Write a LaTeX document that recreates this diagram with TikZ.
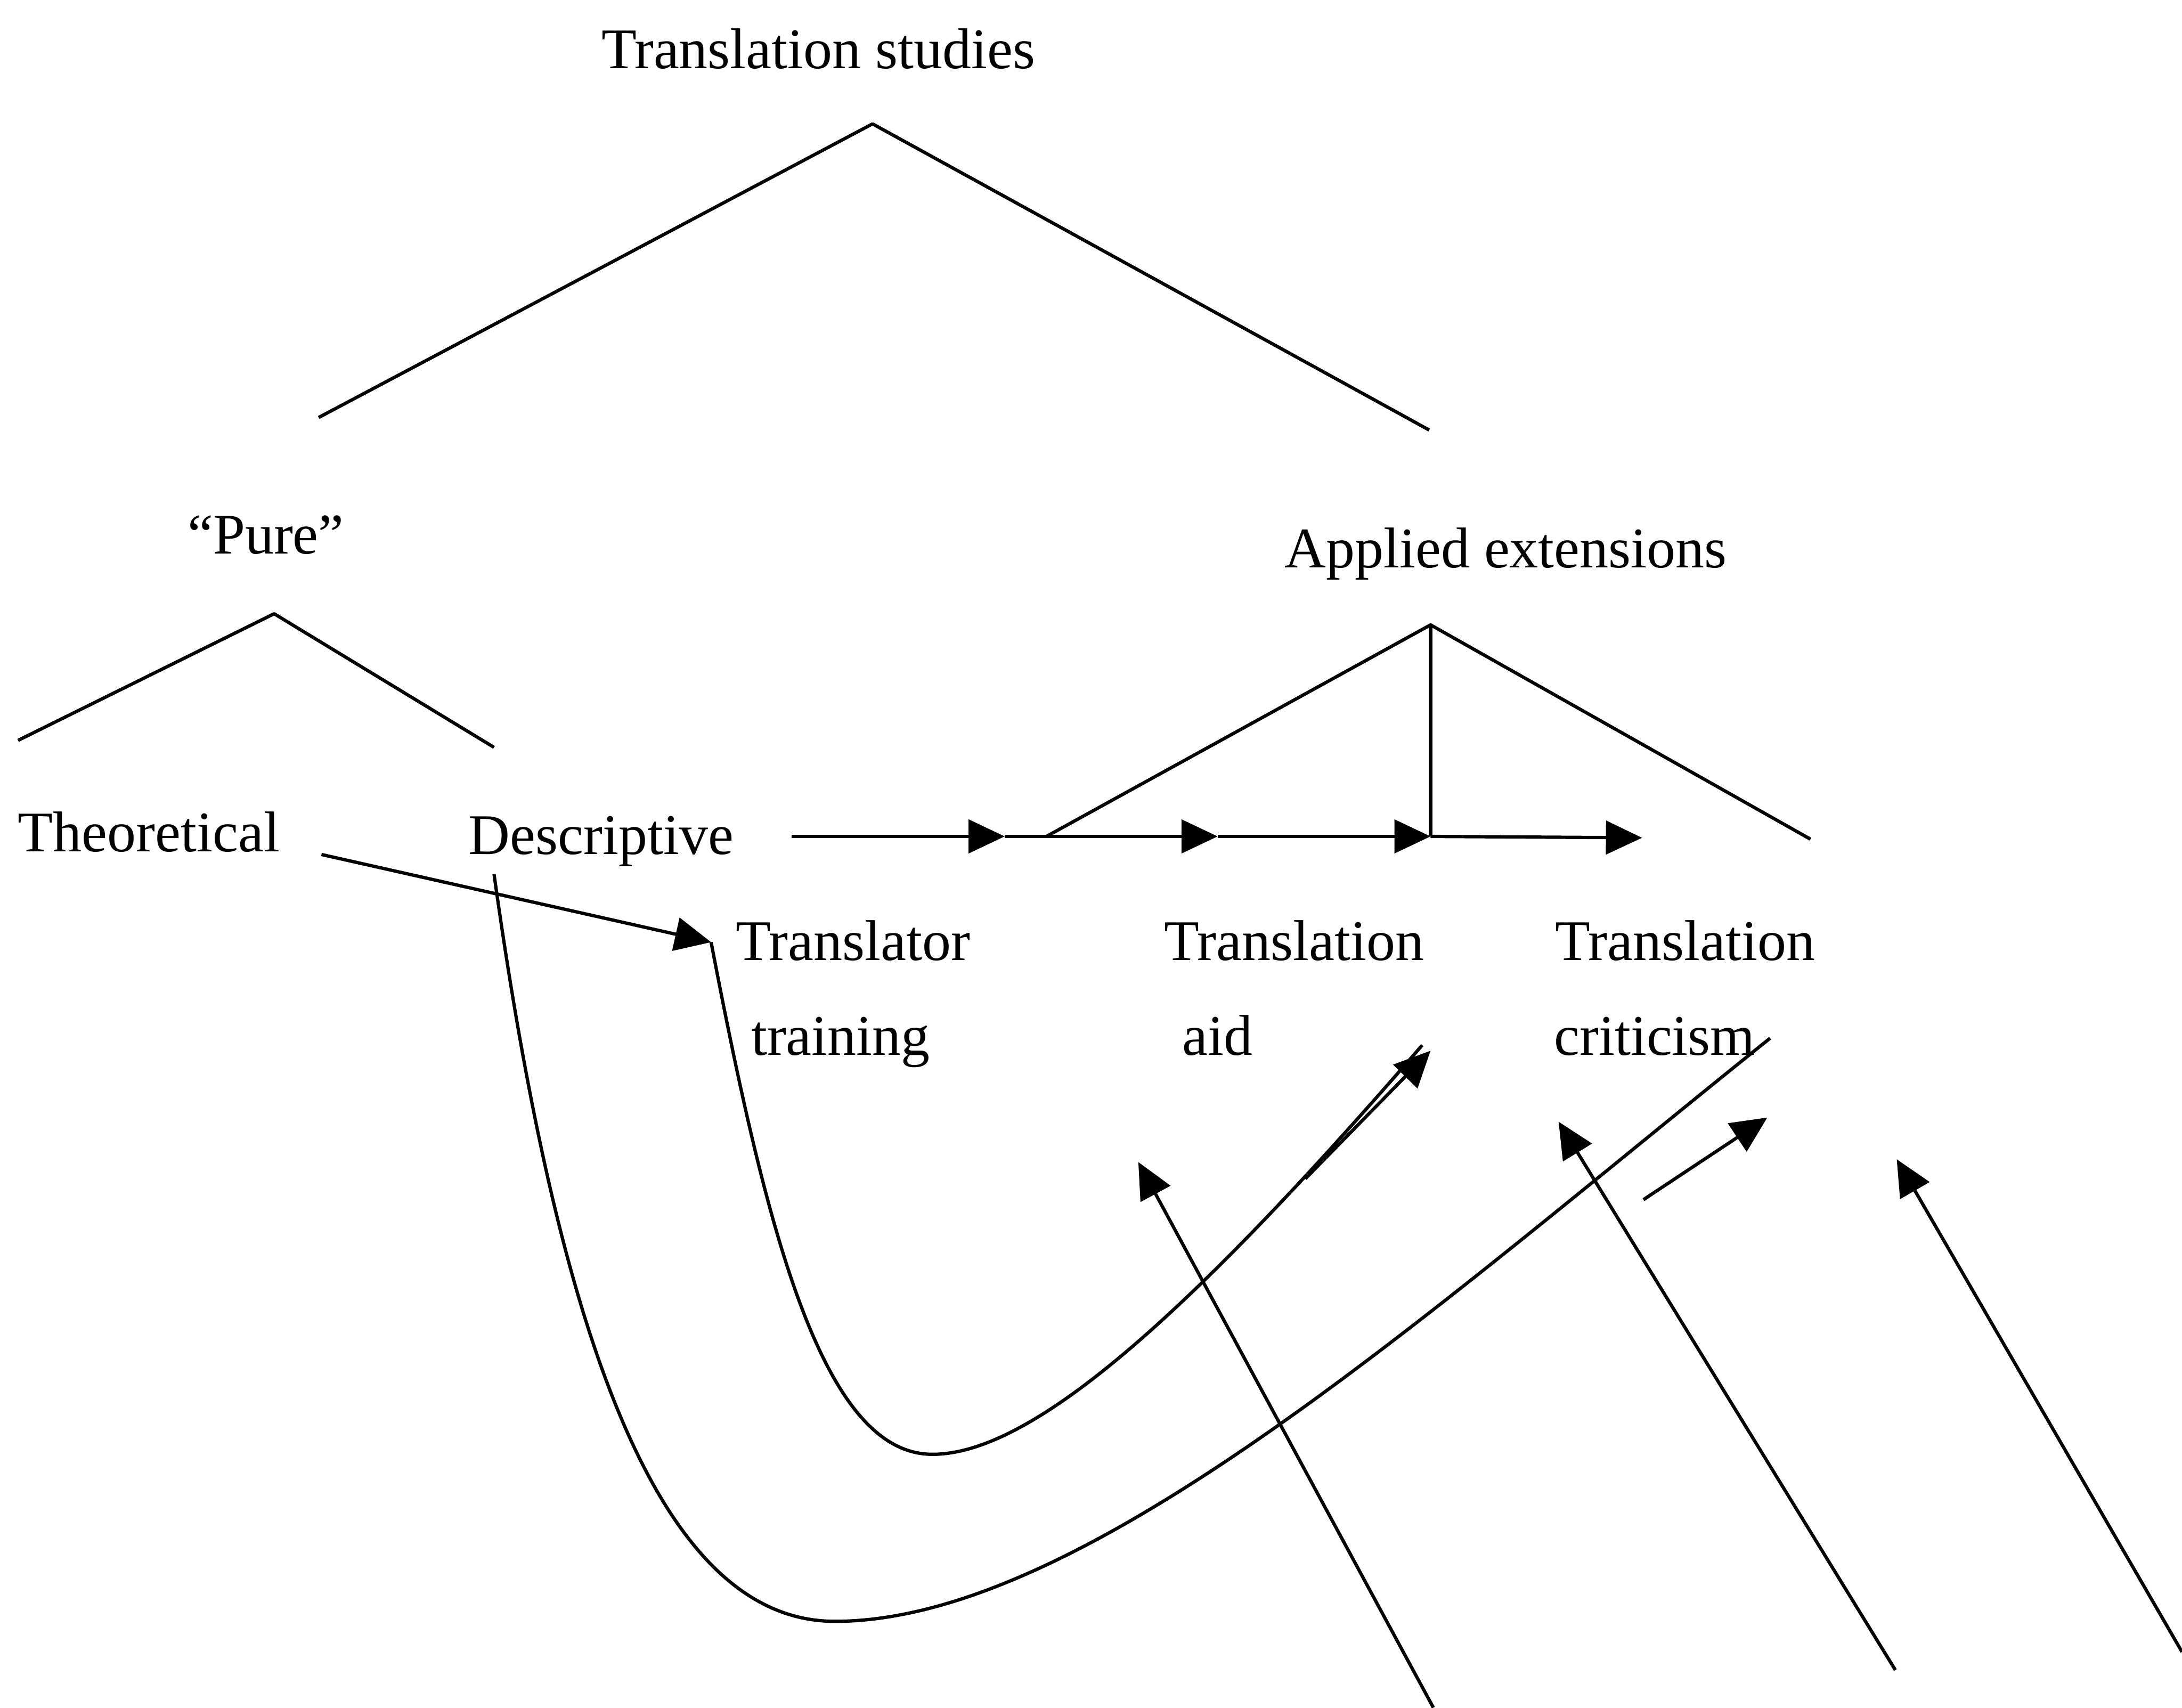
\documentclass[tikz,border=0pt]{standalone}
\usepackage{fontspec}
\setmainfont{Liberation Serif}
\usetikzlibrary{arrows.meta}
\begin{document}
\begin{tikzpicture}[x=0.02cm,y=-0.02cm,
  lbl/.style={font=\fontsize{23.5}{28}\selectfont, inner sep=0pt, anchor=base},
  ln/.style={line width=1.35pt, line join=round},
  arr/.style={ln, -{Triangle[length=0.52cm,width=0.48cm]}}]
\useasboundingbox (0,0) rectangle (1568,1227);
% labels
\node[lbl] (ts) at (588,49) {Translation studies};
\node[lbl] (pure) at (191,398) {“Pure”};
\node[lbl] (app) at (1082,408) {Applied extensions};
\node[lbl] (theo) at (107,612) {Theoretical};
\node[lbl] (desc) at (432,614) {Descriptive};
\node[lbl] (tt1) at (613,690) {Translator};
\node[lbl] (tt2) at (604,758) {training};
\node[lbl] (ta1) at (930,690) {Translation};
\node[lbl] (ta2) at (875,758) {aid};
\node[lbl] (tc1) at (1211,690) {Translation};
\node[lbl] (tc2) at (1189,758) {criticism};
% tree coordinates
\coordinate (tsA) at (627,89);
\coordinate (tsL) at (229,300);
\coordinate (tsR) at (1027,309);
\coordinate (puA) at (197,441);
\coordinate (puL) at (13,532);
\coordinate (puR) at (355,537);
\coordinate (apA) at (1028,449);
\coordinate (apL) at (752,601);
\coordinate (apR) at (1301,603);
\coordinate (apB) at (1028,601);
\draw[ln] (tsL) -- (tsA) -- (tsR);
\draw[ln] (puL) -- (puA) -- (puR);
\draw[ln] (apL) -- (apA) -- (apR);
\draw[ln] (apA) -- (apB);
% horizontal arrows
\coordinate (h0) at (569,601);
\coordinate (h1) at (722,601);
\coordinate (h2) at (875,601);
\coordinate (h3) at (1028,601);
\coordinate (h4) at (1180,602);
\draw[arr] (h0) -- (h1);
\draw[arr] (h1) -- (h2);
\draw[arr] (h2) -- (h3);
\draw[arr] (h3) -- (h4);
% theoretical arrow and curves
\coordinate (th0) at (231,614);
\coordinate (th1) at (511,677);
\coordinate (c1e) at (1022,751);
\coordinate (de0) at (355,628);
\coordinate (c2e) at (1272,746);
\draw[arr] (th0) -- (th1);
\draw[ln] (th1) .. controls (550,880) and (590,1045) .. (670,1045)
               .. controls (740,1045) and (850,950) .. (c1e);
\draw[ln] (de0) .. controls (400,950) and (470,1165) .. (600,1165)
               .. controls (780,1165) and (1030,940) .. (c2e);
% short arrows
\coordinate (d0) at (938,847);
\coordinate (d1) at (1028,755);
\coordinate (e0) at (1181,862);
\coordinate (e1) at (1270,803);
\draw[arr] (d0) -- (d1);
\draw[arr] (e0) -- (e1);
% long arrows
\coordinate (a0) at (1030,1227);
\coordinate (a1) at (818,835);
\coordinate (b0) at (1362,1200);
\coordinate (b1) at (1120,806);
\coordinate (c0) at (1568,1187);
\coordinate (c1) at (1363,833);
\draw[arr] (a0) -- (a1);
\draw[arr] (b0) -- (b1);
\draw[arr] (c0) -- (c1);
\end{tikzpicture}
\end{document}
